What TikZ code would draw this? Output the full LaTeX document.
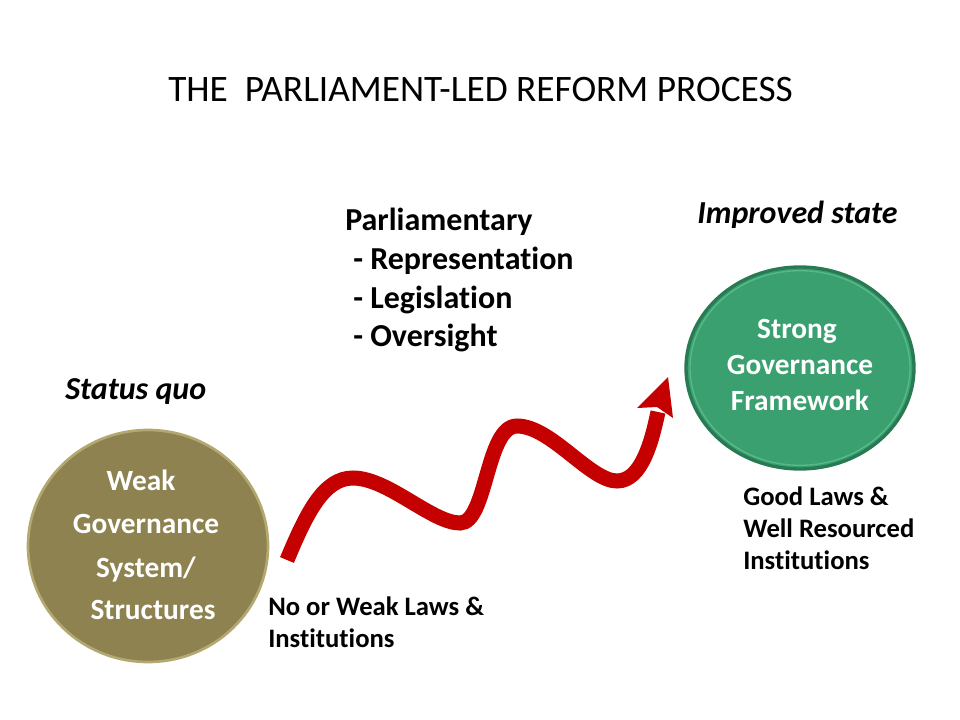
\documentclass[tikz,border=0pt]{standalone}
\usepackage{fontspec}
\setmainfont{Carlito}[RawFeature={-liga;-dlig;-clig}]
\usetikzlibrary{shapes.geometric}
\definecolor{olivefill}{RGB}{141,130,80}
\definecolor{oliverim}{RGB}{178,168,112}
\definecolor{greenfill}{RGB}{58,160,112}
\definecolor{greenrim}{RGB}{40,122,82}
\definecolor{greenlight}{RGB}{90,185,138}
\definecolor{arrowred}{RGB}{196,0,0}
\tikzset{
  titletext/.style={anchor=base west, inner sep=0pt, font=\fontsize{28}{34}\selectfont},
  listtext/.style={anchor=base west, inner sep=0pt, font=\fontsize{24}{29}\bfseries\selectfont},
  statetext/.style={anchor=base west, inner sep=0pt, font=\fontsize{24}{29}\bfseries\itshape\selectfont},
  notetext/.style={anchor=base west, inner sep=0pt, font=\fontsize{20}{24}\bfseries\selectfont},
  circtext/.style={anchor=base, inner sep=0pt, text=white, font=\fontsize{22}{26}\bfseries\selectfont},
  blob/.style={ellipse, inner sep=0pt},
  wave/.style={draw=arrowred, line width=11.25pt, line cap=butt},
}
\begin{document}
\begin{tikzpicture}[x=0.75pt,y=-0.75pt]
\useasboundingbox (0,0) rectangle (960,720);
\fill[white] (0,0) rectangle (960,720);

% title
\node[titletext] (title) at (168,102) {THE\ \ PARLIAMENT-LED REFORM PROCESS};

% circles
\node[blob, minimum width=180pt, minimum height=174pt, fill=olivefill, draw=oliverim, line width=2pt] (weak) at (148,546) {};
\node[blob, minimum width=171pt, minimum height=151.5pt, fill=greenfill, draw=greenrim, line width=2.5pt] (strong) at (800,368) {};
\node[blob, minimum width=165pt, minimum height=146pt, draw=greenlight, line width=1pt] (stronginner) at (800,368) {};

% circle texts
\node[circtext] (w1) at (141,490) {Weak};
\node[circtext] (w2) at (146,533) {Governance};
\node[circtext] (w3) at (146,577) {System/};
\node[circtext] (w4) at (153,619) {Structures};

\node[circtext] (s1) at (797,338) {Strong};
\node[circtext] (s2) at (800,374) {Governance};
\node[circtext] (s3) at (800,410) {Framework};

% labels
\node[listtext] (p0) at (345,231) {Parliamentary};
\node[listtext] (p1) at (353,270) {- Representation};
\node[listtext] (p2) at (353,308) {- Legislation};
\node[listtext] (p3) at (353,346) {- Oversight};

\node[statetext] (improved) at (697,224) {Improved state};
\node[statetext] (status) at (65,399) {Status quo};

\node[notetext] (g1) at (743,505) {Good Laws \&};
\node[notetext] (g2) at (743,537) {Well Resourced};
\node[notetext] (g3) at (743,569) {Institutions};

\node[notetext] (n1) at (268,615) {No or Weak Laws \&};
\node[notetext] (n2) at (268,647) {Institutions};

% wavy arrow
\coordinate (a0) at (287,560);
\coordinate (a1) at (353,478);
\coordinate (a2) at (460,523);
\coordinate (a3) at (517,426);
\coordinate (a4) at (617,481);
\coordinate (a5) at (658,412);
\coordinate (tip) at (668,377);
\coordinate (wl) at (637,408);
\coordinate (wr) at (673,418);
\coordinate (notch) at (657,407);
\draw[wave] (a0) .. controls (307,512) and (324,478) .. (a1)
  .. controls (388,478) and (432,523) .. (a2)
  .. controls (487,523) and (486,426) .. (a3)
  .. controls (551,426) and (590,481) .. (a4)
  .. controls (642,481) and (652,440) .. (a5);
\fill[arrowred] (tip) -- (wl) -- (notch) -- (wr) -- cycle;
\end{tikzpicture}
\end{document}
